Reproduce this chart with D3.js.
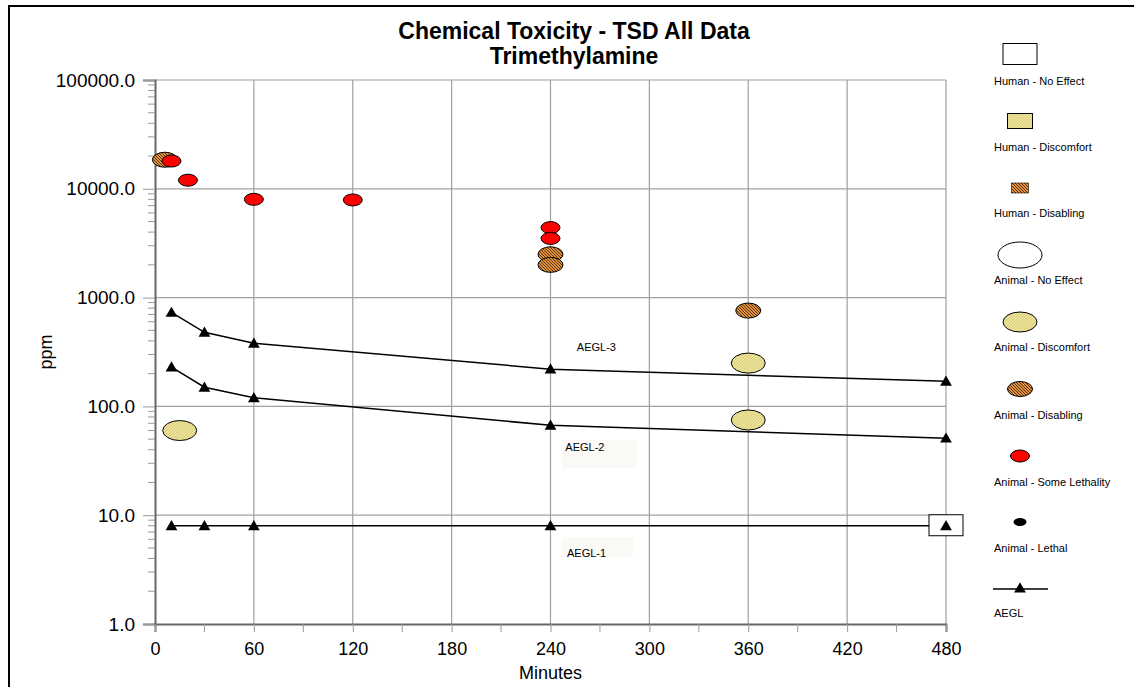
<!DOCTYPE html>
<html><head><meta charset="utf-8">
<script src="https://cdn.jsdelivr.net/npm/d3@7"></script>
<style>body{margin:0;background:#fff;}svg{display:block;font-family:"Liberation Sans",Arial,sans-serif;}</style>
</head><body>
<svg id="c" width="1134" height="687"></svg>
<script>
// ---- data ----
const aeglTimes = [10, 30, 60, 240, 480];
const aegl1 = [8, 8, 8, 8, 8];
const aegl2 = [230, 150, 120, 67, 51];
const aegl3 = [730, 480, 380, 220, 170];
const aeglNames = ["AEGL-1", "AEGL-2", "AEGL-3"];

const humanNoEffectTime = [480];
const humanNoEffectPpm = [8];
const animalDisablingTime = [6, 240, 240, 360];
const animalDisablingPpm = [18500, 2500, 2000, 760];
const animalDiscomfortTime = [15, 360, 360];
const animalDiscomfortPpm = [60, 250, 75];
const someLethalityTime = [10, 20, 60, 120, 240, 240];
const someLethalityPpm = [18000, 12000, 8000, 7900, 4400, 3500];

const xTicks = [0, 60, 120, 180, 240, 300, 360, 420, 480];
const yTicks = [1, 10, 100, 1000, 10000, 100000];
const legendNames = ["Human - No Effect", "Human - Discomfort", "Human - Disabling",
  "Animal - No Effect", "Animal - Discomfort", "Animal - Disabling",
  "Animal - Some Lethality", "Animal - Lethal", "AEGL"];
const titleLines = ["Chemical Toxicity - TSD All Data", "Trimethylamine"];

// ---- drawing ----
const svg = d3.select("#c");
const x = d3.scaleLinear().domain([0, 480]).range([155, 946]);
const y = d3.scaleLog().domain([1, 100000]).range([624, 80]);

const defs = svg.append("defs");
function hatch(id, bg, fg, dir, sw) {
  const p = defs.append("pattern").attr("id", id).attr("patternUnits", "userSpaceOnUse")
    .attr("width", 3).attr("height", 3);
  p.append("rect").attr("width", 3).attr("height", 3).attr("fill", bg);
  if (dir > 0) p.append("path").attr("d", "M-1,1 L1,-1 M0,3 L3,0 M2,4 L4,2");
  else p.append("path").attr("d", "M-1,2 L1,4 M0,0 L3,3 M2,-1 L4,1");
  p.select("path").attr("stroke", fg).attr("stroke-width", sw);
}
hatch("yel", "#efe49c", "#c9bb6a", 1, 0.7);
hatch("brn", "#e0913a", "#4a2a10", -1, 0.9);

// outer frame
svg.append("rect").attr("x", 9).attr("y", 6).attr("width", 1140).attr("height", 700)
  .attr("fill", "none").attr("stroke", "#000").attr("stroke-width", 2);

// gridlines
svg.append("g").selectAll("line").data(xTicks.filter(d => d > 0)).join("line")
  .attr("x1", d => x(d)).attr("x2", d => x(d)).attr("y1", y(100000)).attr("y2", y(1))
  .attr("stroke", "#a0a0a0").attr("stroke-width", 1.2);
svg.append("g").selectAll("line").data(yTicks.filter(d => d > 1)).join("line")
  .attr("x1", x(0)).attr("x2", x(480)).attr("y1", d => y(d)).attr("y2", d => y(d))
  .attr("stroke", "#a0a0a0").attr("stroke-width", 1.2);

// y axis
const yAxis = d3.axisLeft(y).tickValues(yTicks).tickFormat(d3.format(".1f")).tickSize(12).tickPadding(8);
const gy = svg.append("g").attr("transform", `translate(${x(0)},0)`).call(yAxis);
gy.select(".domain").attr("stroke", "#666").attr("stroke-width", 2);
gy.selectAll(".tick line").attr("stroke", "#999");
gy.selectAll("text").attr("font-size", 19).attr("font-family", '"Liberation Sans",Arial,sans-serif').attr("fill", "#000");
// minor y ticks
const minor = [];
for (let e = 0; e < 5; e++) for (let k = 2; k <= 9; k++) minor.push(k * Math.pow(10, e));
svg.append("g").selectAll("line").data(minor).join("line")
  .attr("x1", x(0) - 7).attr("x2", x(0)).attr("y1", d => y(d)).attr("y2", d => y(d))
  .attr("stroke", "#999").attr("stroke-width", 1);

// x axis
const xAxis = d3.axisBottom(x).tickValues(xTicks).tickSize(8).tickPadding(10);
const gx = svg.append("g").attr("transform", `translate(0,${y(1)})`).call(xAxis);
gx.select(".domain").attr("stroke", "#666").attr("stroke-width", 2);
gx.selectAll(".tick line").attr("stroke", "#999");
gx.selectAll("text").attr("font-size", 18).attr("font-family", '"Liberation Sans",Arial,sans-serif').attr("fill", "#000");
const xMinor = d3.range(30, 480, 60);
svg.append("g").selectAll("line").data(xMinor).join("line")
  .attr("x1", d => x(d)).attr("x2", d => x(d)).attr("y1", y(1)).attr("y2", y(1) + 8)
  .attr("stroke", "#999");

// axis titles
svg.append("text").attr("x", (x(0) + x(480)) / 2).attr("y", 679).attr("text-anchor", "middle")
  .attr("font-size", 18).text("Minutes");
svg.append("text").attr("transform", "translate(52,352) rotate(-90)").attr("text-anchor", "middle")
  .attr("font-size", 18).text("ppm");

// title
svg.append("g").selectAll("text").data(titleLines).join("text")
  .attr("x", 574).attr("y", (d, i) => 39 + i * 25).attr("text-anchor", "middle")
  .attr("font-size", 23).attr("font-weight", "bold").text(d => d);

// AEGL labels with faint boxes
const labelBoxes = [[x(247), 537, 71, 20], [x(247), 440, 75, 28]];
svg.append("g").selectAll("rect").data(labelBoxes).join("rect")
  .attr("x", d => d[0]).attr("y", d => d[1]).attr("width", d => d[2]).attr("height", d => d[3])
  .attr("fill", "#fbf9f6");
const labelPos = [[x(250), y(4.5)], [x(249), y(42)], [x(256), y(350)]];
svg.append("g").selectAll("text").data(aeglNames).join("text")
  .attr("x", (d, i) => labelPos[i][0]).attr("y", (d, i) => labelPos[i][1] + 4)
  .attr("font-size", 11).text(d => d);

// AEGL lines
const line = d3.line().x(d => x(d[0])).y(d => y(d[1]));
const aeglSeries = [aegl1, aegl2, aegl3].map(v => aeglTimes.map((t, i) => [t, v[i]]));
svg.append("g").selectAll("path").data(aeglSeries).join("path")
  .attr("d", line).attr("fill", "none").attr("stroke", "#000").attr("stroke-width", 1.5);

// points
function ellipses(ts, vs, rx, ry, fill) {
  svg.append("g").selectAll("ellipse").data(ts.map((t, i) => [t, vs[i]])).join("ellipse")
    .attr("cx", d => x(d[0])).attr("cy", d => y(d[1])).attr("rx", rx).attr("ry", ry)
    .attr("fill", fill).attr("stroke", "#000").attr("stroke-width", 1);
}
ellipses(animalDisablingTime, animalDisablingPpm, 12.5, 7.5, "url(#brn)");
ellipses(animalDiscomfortTime, animalDiscomfortPpm, 17, 10, "url(#yel)");
ellipses(someLethalityTime, someLethalityPpm, 9.5, 6, "#ff0000");
svg.append("g").selectAll("rect").data(humanNoEffectTime.map((t, i) => [t, humanNoEffectPpm[i]])).join("rect")
  .attr("x", d => x(d[0]) - 17).attr("y", d => y(d[1]) - 11).attr("width", 34).attr("height", 21)
  .attr("fill", "#fff").attr("stroke", "#000").attr("stroke-width", 1);

// triangles
const tri = d3.symbol().type(d3.symbolTriangle).size(60);
svg.append("g").selectAll("path").data(aeglSeries.flat()).join("path")
  .attr("transform", d => `translate(${x(d[0])},${y(d[1]) + 1})`).attr("d", tri).attr("fill", "#000");

// legend
const lg = svg.append("g").attr("transform", "translate(1020,0)");
const lgY = [54, 121, 188, 255, 322, 389, 456, 522, 589];
const lblY = [85, 151, 217, 284, 351, 419, 486, 552, 617];
const shapes = [
  g => g.append("rect").attr("x", -17).attr("y", -10.5).attr("width", 34).attr("height", 21).attr("fill", "#fff").attr("stroke", "#000"),
  g => g.append("rect").attr("x", -12.5).attr("y", -7.5).attr("width", 25).attr("height", 15).attr("fill", "url(#yel)").attr("stroke", "#000"),
  g => g.append("rect").attr("x", -8.5).attr("y", -5).attr("width", 17).attr("height", 10).attr("fill", "url(#brn)").attr("stroke", "#000").attr("stroke-width", 0.6),
  g => g.append("ellipse").attr("rx", 22).attr("ry", 13).attr("fill", "#fff").attr("stroke", "#000"),
  g => g.append("ellipse").attr("rx", 17).attr("ry", 10).attr("fill", "url(#yel)").attr("stroke", "#000"),
  g => g.append("ellipse").attr("rx", 12.5).attr("ry", 7.5).attr("fill", "url(#brn)").attr("stroke", "#000"),
  g => g.append("ellipse").attr("rx", 9.5).attr("ry", 6).attr("fill", "#ff0000").attr("stroke", "#000"),
  g => g.append("ellipse").attr("rx", 6.5).attr("ry", 4).attr("fill", "#000"),
  g => { g.append("line").attr("x1", -27).attr("x2", 28).attr("stroke", "#000").attr("stroke-width", 1.5);
         g.append("path").attr("d", tri).attr("fill", "#000"); }
];
legendNames.forEach((n, i) => {
  const g = lg.append("g").attr("transform", `translate(0,${lgY[i]})`);
  shapes[i](g);
  lg.append("text").attr("x", -26).attr("y", lblY[i]).attr("font-size", 11).text(n);
});
</script>
</body></html>
